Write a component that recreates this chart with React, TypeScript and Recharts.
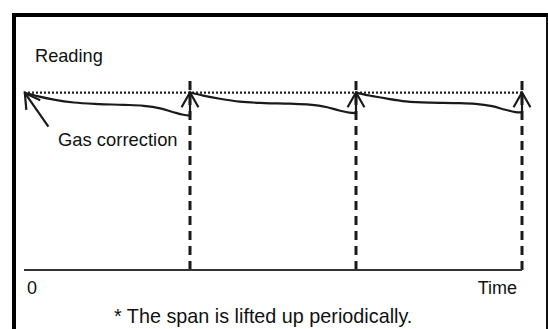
import { LineChart, Line, XAxis, YAxis, ReferenceLine } from 'recharts'

// one calibration cycle = 1 time unit, reading in % of full scale
const cycleStarts = [0, 1, 2]
const driftFrac = [0, 0.08, 0.18, 0.3, 0.45, 0.6, 0.72, 0.82, 0.9, 0.96, 1]
const cycle1 = [91, 89.2, 87.4, 85.9, 85.1, 84.7, 84.2, 82.9, 80.9, 79.6, 79.2]
const cycle2 = [91, 89.4, 87.8, 86.3, 85.6, 85.3, 84.8, 83.6, 81.8, 80.7, 80.4]
const cycle3 = [91, 89.5, 88.0, 86.5, 85.8, 85.6, 85.2, 84.0, 82.2, 81.0, 80.8]
const cycles = [cycle1, cycle2, cycle3]
const spanReading = 91
const xTicks = [0, 3]
const tickText: Record<number, string> = { 0: '0', 3: 'Time' }
// tail -> head of the "Gas correction" pointer
const gasPointer = [
  { t: 0.147, v: 73.5 },
  { t: 0.005, v: 90.8 },
]

const FONT = '"Liberation Sans", Arial, sans-serif'
const INK = '#1a1a1a'

function Arrow(props: any) {
  const { x1, y1, x2, y2 } = props
  const ang = Math.atan2(y2 - y1, x2 - x1)
  const len = 17
  const spread = 0.52
  const ax = x2 - len * Math.cos(ang - spread)
  const ay = y2 - len * Math.sin(ang - spread)
  const bx = x2 - len * Math.cos(ang + spread)
  const by = y2 - len * Math.sin(ang + spread)
  return (
    <g stroke={INK} strokeWidth={2.2} fill="none">
      <line x1={x1} y1={y1} x2={x2} y2={y2} />
      <polyline points={`${ax},${ay} ${x2},${y2} ${bx},${by}`} />
    </g>
  )
}

function TimeTick(props: any) {
  const { x, y, payload } = props
  const isEnd = payload.value === 3
  return (
    <text
      x={isEnd ? x - 5 : x + 3}
      y={y + 23.5}
      textAnchor={isEnd ? 'end' : 'start'}
      fontSize={18}
      fontFamily={FONT}
      fill="#111"
    >
      {tickText[payload.value]}
    </text>
  )
}

export default function App() {
  return (
    <div style={{ position: 'absolute', left: 0, top: 0, width: 548, height: 329, overflow: 'hidden', background: '#fff' }}>
      <div
        style={{
          position: 'absolute',
          left: 12,
          top: 13,
          width: 536,
          height: 340,
          boxSizing: 'border-box',
          borderLeft: '4px solid #000',
          borderTop: '4px solid #000',
          borderRight: '2px solid #111',
        }}
      />
      <div style={{ position: 'absolute', left: 0, top: 0 }}>
        <LineChart width={548} height={329} margin={{ top: 75, right: 26, left: 24, bottom: 0 }}>
          <XAxis
            type="number"
            dataKey="t"
            domain={[0, 3]}
            ticks={xTicks}
            tickLine={false}
            tickSize={0}
            tickMargin={0}
            height={59}
            stroke="#333"
            strokeWidth={2}
            tick={<TimeTick />}
          />
          <YAxis type="number" domain={[0, 100]} width={0} tick={false} tickLine={false} stroke="#333" strokeWidth={2} />
          <ReferenceLine y={spanReading} stroke="#222" strokeWidth={2.2} strokeDasharray="2 2" />
          {cycleStarts.map((s) => (
            <ReferenceLine key={`d${s}`} x={s + 1} stroke={INK} strokeWidth={3} strokeDasharray="9 6" ifOverflow="visible" />
          ))}
          {cycleStarts.map((s, k) => (
            <Line
              key={`c${s}`}
              data={driftFrac.map((f, i) => ({ t: s + f, v: cycles[k][i] }))}
              dataKey="v"
              type="monotone"
              stroke={INK}
              strokeWidth={2.2}
              dot={false}
              activeDot={false}
              isAnimationActive={false}
            />
          ))}
          {cycleStarts.map((s, k) => (
            <ReferenceLine
              key={`a${s}`}
              segment={[
                { x: s + 1, y: cycles[k][cycles[k].length - 1] },
                { x: s + 1, y: spanReading },
              ]}
              ifOverflow="visible"
              shape={<Arrow />}
            />
          ))}
          <ReferenceLine
            segment={gasPointer.map((p) => ({ x: p.t, y: p.v }))}
            ifOverflow="visible"
            shape={<Arrow />}
          />
        </LineChart>
      </div>
      <div style={{ position: 'absolute', left: 35, top: 47, fontFamily: FONT, fontSize: 18.2, lineHeight: '18px', color: '#111' }}>
        Reading
      </div>
      <div style={{ position: 'absolute', left: 58, top: 131, fontFamily: FONT, fontSize: 18.4, lineHeight: '18px', color: '#111' }}>
        Gas correction
      </div>
      <div style={{ position: 'absolute', left: 114, top: 306, fontFamily: FONT, fontSize: 19.8, lineHeight: '20px', color: '#111', whiteSpace: 'nowrap' }}>
        * The span is lifted up periodically.
      </div>
    </div>
  )
}
